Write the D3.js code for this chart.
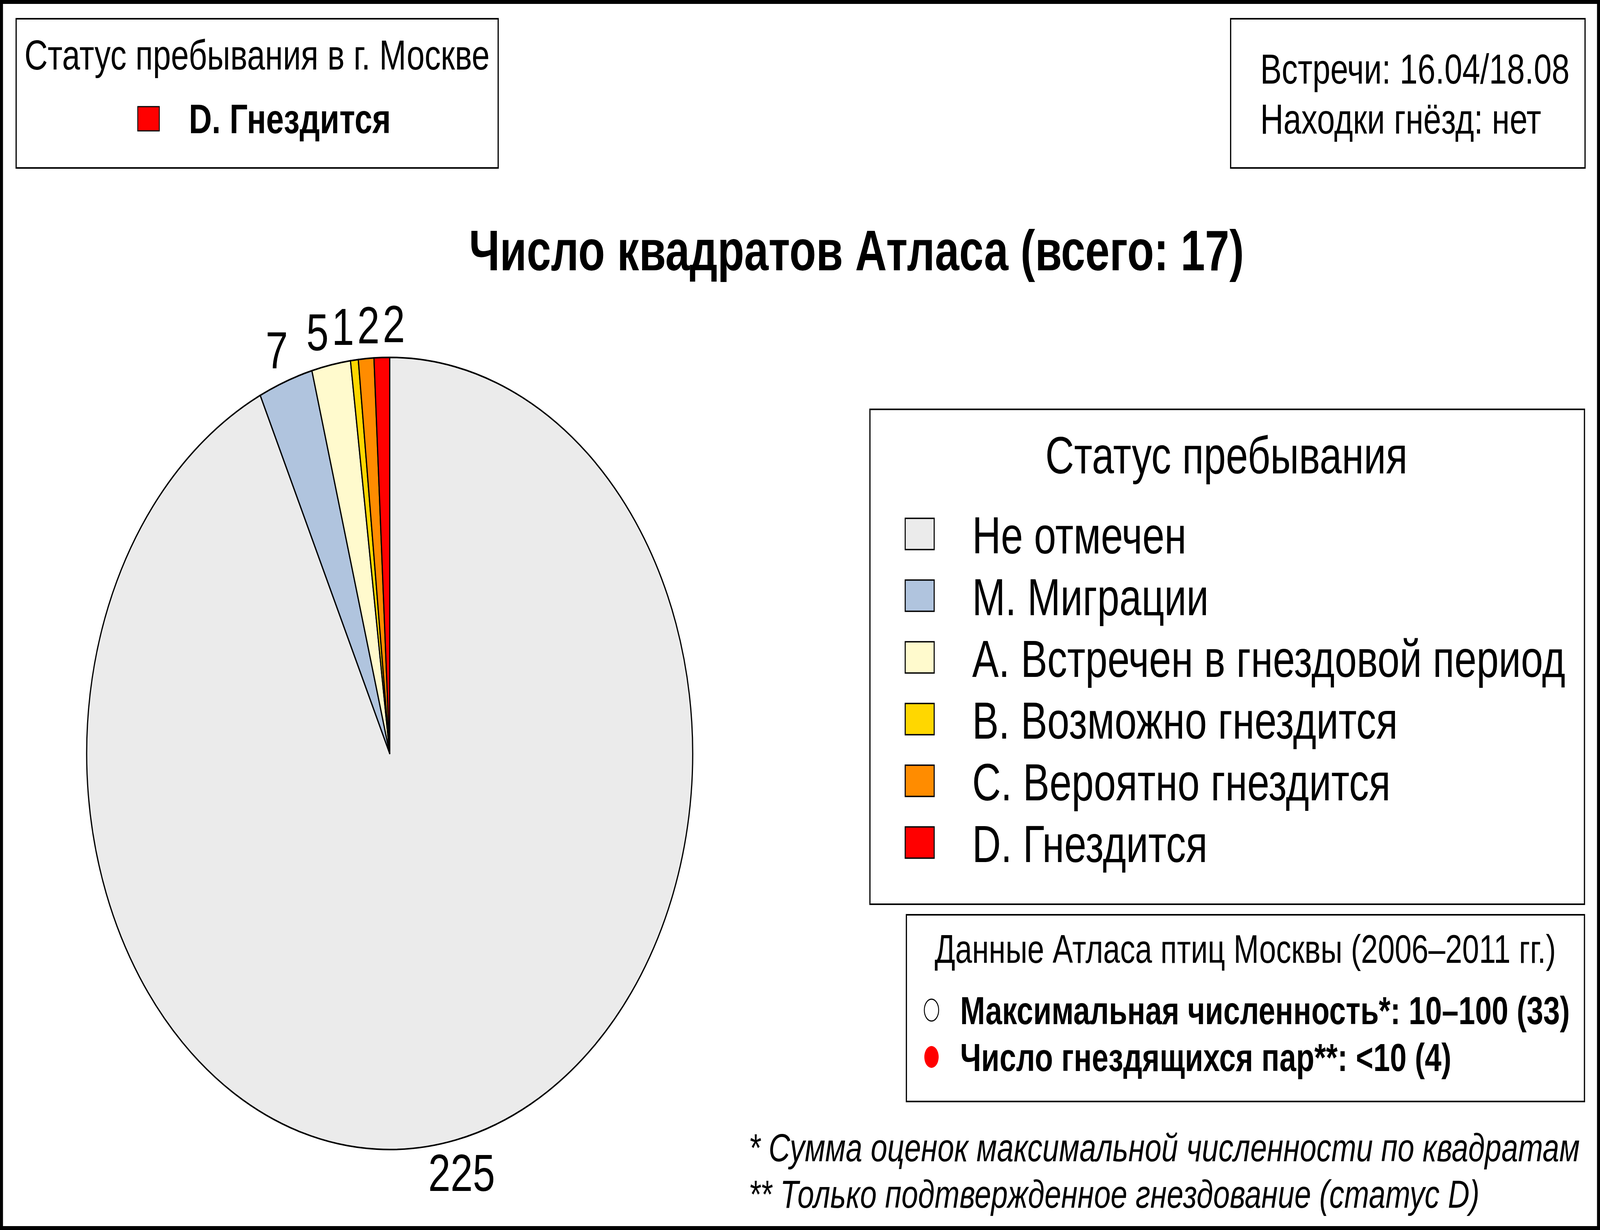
<!DOCTYPE html>
<html>
<head>
<meta charset="utf-8">
<script src="https://cdn.jsdelivr.net/npm/d3@7"></script>
<style>
html, body { margin: 0; padding: 0; background: #fff; overflow: hidden; }
svg text { font-family: "Liberation Sans", Arial, sans-serif; fill: #000; }
</style>
</head>
<body>
<script>
// data
var categories = ["Не отмечен", "М. Миграции", "А. Встречен в гнездовой период",
	"В. Возможно гнездится", "С. Вероятно гнездится", "D. Гнездится"];
var squareCounts = [225, 7, 5, 1, 2, 2];
var statusColors = ["#ebebeb", "#b0c4de", "#fffacd", "#ffd700", "#ff8c00", "#ff0000"];

var chartTitle = "Число квадратов Атласа (всего: 17)";
var legendTitle = "Статус пребывания";
var cityStatusTitle = "Статус пребывания в г. Москве";
var cityStatus = 5; // index into categories
var visitLines = ["Встречи: 16.04/18.08", "Находки гнёзд: нет"];
var atlasTitle = "Данные Атласа птиц Москвы (2006–2011 гг.)";
var atlasLines = ["Максимальная численность*: 10–100 (33)", "Число гнездящихся пар**: <10 (4)"];
var atlasMarks = ["none", "#ff0000"];
var footnotes = ["* Сумма оценок максимальной численности по квадратам",
	"** Только подтвержденное гнездование (статус D)"];

var W = 5354, H = 3149;

// the window may be narrower than the chart, so stretch the drawing onto it
var svg = d3.select("body").append("svg")
	.attr("viewBox", "0 0 " + W + " " + H)
	.attr("preserveAspectRatio", "none")
	.style("display", "block")
	.style("width", "100vw")
	.style("height", "100vh");

svg.append("rect")
	.attr("x", 5).attr("y", 5)
	.attr("width", W - 10).attr("height", H - 10)
	.attr("fill", "#fff")
	.attr("stroke", "#000")
	.attr("stroke-width", 10);

function box(x, y, w, h){
	svg.append("rect")
		.attr("x", x).attr("y", y)
		.attr("width", w).attr("height", h)
		.attr("fill", "#fff")
		.attr("stroke", "#000")
		.attr("stroke-width", 4);
}

// scale the font of a group of texts so the first one has the given width
function fitFont(texts, width){
	var first = texts[0];
	var size = +first.attr("font-size");
	var len = first.node().getComputedTextLength();
	if(!len){ return; }
	var s = size * width / len;
	texts.forEach(function(t){ t.attr("font-size", s); });
}

// top left box
box(54, 48, 1613, 382);
var t1 = svg.append("text")
	.attr("x", 860).attr("y", 178)
	.attr("text-anchor", "middle")
	.attr("font-size", 108)
	.text(cityStatusTitle);
fitFont([t1], 1557);
svg.append("rect")
	.attr("x", 461).attr("y", 273)
	.attr("width", 72).attr("height", 62)
	.attr("fill", statusColors[cityStatus])
	.attr("stroke", "#000")
	.attr("stroke-width", 3);
var t2 = svg.append("text")
	.attr("x", 632).attr("y", 341)
	.attr("font-size", 104)
	.attr("font-weight", "bold")
	.text(categories[cityStatus]);
fitFont([t2], 676);

// top right box
box(4118, 48, 1186, 382);
var visitTexts = visitLines.map(function(line, i){
	return svg.append("text")
		.attr("x", 4217).attr("y", 214 + i * 128)
		.attr("font-size", 108)
		.text(line);
});
fitFont(visitTexts, 1035);

// title
var tt = svg.append("text")
	.attr("x", 2866).attr("y", 692)
	.attr("text-anchor", "middle")
	.attr("font-size", 147)
	.attr("font-weight", "bold")
	.text(chartTitle);
fitFont([tt], 2593);

// pie
var cx = 1304, cy = 1929, r = 1014;
var pie = d3.pie().sort(null).value(function(d){ return d; });
var arcs = pie(squareCounts);
var arc = d3.arc().innerRadius(0).outerRadius(r);
var labelArc = d3.arc().innerRadius(r * 1.085).outerRadius(r * 1.085);

var g = svg.append("g").attr("transform", "translate(" + cx + "," + cy + ")");

g.selectAll("path")
	.data(arcs)
	.enter().append("path")
	.attr("d", arc)
	.attr("fill", function(d, i){ return statusColors[i]; })
	.attr("stroke", "#000")
	.attr("stroke-width", 4)
	.attr("stroke-linejoin", "round");

var labelSize = 134;
var labels = g.selectAll("text.lab")
	.data(arcs)
	.enter().append("text")
	.attr("class", "lab")
	.attr("text-anchor", "middle")
	.attr("dy", "0.35em")
	.attr("font-size", labelSize)
	.text(function(d){ return d.data; });

// spread labels that would overlap
var pos = arcs.map(function(d, i){
	var c = labelArc.centroid(d);
	return { x: c[0], y: c[1], w: labels.nodes()[i].getComputedTextLength() };
});
for(var it = 0; it < 200; it++){
	var order = pos.slice().sort(function(a, b){ return a.x - b.x; });
	for(var k = 0; k < order.length - 1; k++){
		var a = order[k], b = order[k + 1];
		if(Math.abs(a.y - b.y) > labelSize * 0.8){ continue; }
		var need = (a.w + b.w) / 2 + labelSize * 0.08;
		var gap = b.x - a.x;
		if(gap < need){
			var push = (need - gap) / 2;
			a.x -= push;
			b.x += push;
		}
	}
}
labels
	.attr("x", function(d, i){ return pos[i].x; })
	.attr("y", function(d, i){ return pos[i].y; });

// legend
box(2911, 1048, 2391, 1267);
var lt = svg.append("text")
	.attr("x", 4104).attr("y", 1212)
	.attr("text-anchor", "middle")
	.attr("font-size", 134)
	.text(legendTitle);
fitFont([lt], 1212);

var rowY = d3.scaleLinear().domain([0, 1]).range([1417, 1575]);
var itemTexts = categories.map(function(name, i){
	svg.append("rect")
		.attr("x", 3029).attr("y", rowY(i) - 90)
		.attr("width", 97).attr("height", 80)
		.attr("fill", statusColors[i])
		.attr("stroke", "#000")
		.attr("stroke-width", 3.5);
	return svg.append("text")
		.attr("x", 3253).attr("y", rowY(i))
		.attr("font-size", 134)
		.text(name);
});
fitFont([itemTexts[2]].concat(itemTexts), 1985);

// atlas data box
box(3033, 2342, 2269, 478);
var at = svg.append("text")
	.attr("x", 4167).attr("y", 2465)
	.attr("text-anchor", "middle")
	.attr("font-size", 96)
	.text(atlasTitle);
fitFont([at], 2079);
var atlasTexts = atlasLines.map(function(line, i){
	var y = 2622 + i * 120;
	svg.append("ellipse")
		.attr("cx", 3117).attr("cy", y - 36)
		.attr("rx", 24).attr("ry", 28)
		.attr("fill", atlasMarks[i] === "none" ? "#fff" : atlasMarks[i])
		.attr("stroke", atlasMarks[i] === "none" ? "#000" : "none")
		.attr("stroke-width", 3);
	return svg.append("text")
		.attr("x", 3213).attr("y", y)
		.attr("font-size", 99)
		.attr("font-weight", "bold")
		.text(line);
});
fitFont(atlasTexts, 2040);

// footnotes
var noteTexts = footnotes.map(function(line, i){
	return svg.append("text")
		.attr("x", 2505).attr("y", 2973 + i * 119)
		.attr("font-size", 100)
		.attr("font-style", "italic")
		.text(line);
});
fitFont(noteTexts, 2781);
</script>
</body>
</html>
